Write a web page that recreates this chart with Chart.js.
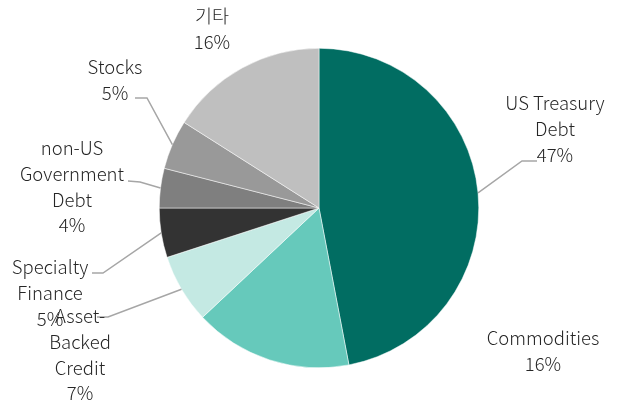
<!DOCTYPE html>
<html>
<head>
<meta charset="utf-8">
<script src="https://cdn.jsdelivr.net/npm/chart.js@4"></script>
<style>
  html, body { margin: 0; padding: 0; background: #fff; }
  #wrap { width: 622px; height: 408px; position: relative; }
</style>
</head>
<body>
<div id="wrap"><canvas id="myChart" width="622" height="408"></canvas></div>
<script>
// data
const categories = ["US Treasury Debt", "Commodities", "Asset-Backed Credit", "Specialty Finance", "non-US Government Debt", "Stocks", "기타"];
const shares = [47, 16, 7, 5, 4, 5, 16];
const sliceColors = ["#016d62", "#66c9bb", "#c4e9e3", "#333333", "#7f7f7f", "#999999", "#bfbfbf"];
// label text lines for each slice
const labelLines = [
  ["US Treasury", "Debt", "47%"],
  ["Commodities", "16%"],
  ["Asset-", "Backed", "Credit", "7%"],
  ["Specialty", "Finance", "5%"],
  ["non-US", "Government", "Debt", "4%"],
  ["Stocks", "5%"],
  ["기타", "16%"]
];

// where the label block sits (center x, first line y) and where the leader bends
const labelPlace = [
  { x: 555, y: 103, line: [[537, 161], [522, 161]] },
  { x: 543, y: 338, line: null },
  { x: 80, y: 316, line: [[97, 317], [108, 317]] },
  { x: 50, y: 267, line: [[92, 273], [103, 273]] },
  { x: 72, y: 148, line: [[128, 181], [140, 182]] },
  { x: 115, y: 67, line: [[135, 98], [147, 98]] },
  { x: 212, y: 16, line: null }
];

const FONT = "300 18.5px 'Noto Sans CJK KR', 'Noto Sans', sans-serif";

const outsideLabels = {
  id: "outsideLabels",
  afterDatasetsDraw(chart) {
    const ctx = chart.ctx;
    const arcs = chart.getDatasetMeta(0).data;
    ctx.save();
    // leader lines
    ctx.strokeStyle = "#a6a6a6";
    ctx.lineWidth = 1.5;
    arcs.forEach((arc, i) => {
      const p = labelPlace[i];
      if (!p.line) return;
      const mid = (arc.startAngle + arc.endAngle) / 2;
      const ex = arc.x + Math.cos(mid) * arc.outerRadius;
      const ey = arc.y + Math.sin(mid) * arc.outerRadius;
      ctx.beginPath();
      ctx.moveTo(p.line[0][0], p.line[0][1]);
      ctx.lineTo(p.line[1][0], p.line[1][1]);
      ctx.lineTo(ex, ey);
      ctx.stroke();
    });
    // text
    ctx.font = FONT;
    ctx.fillStyle = "#262626";
    ctx.textAlign = "center";
    ctx.textBaseline = "middle";
    labelLines.forEach((lines, i) => {
      const p = labelPlace[i];
      lines.forEach((t, j) => {
        ctx.fillText(t, p.x, p.y + j * 25.8);
      });
    });
    ctx.restore();
  }
};

const ctx = document.getElementById("myChart").getContext("2d");
const myChart = new Chart(ctx, {
  type: "pie",
  data: {
    labels: categories,
    datasets: [
      {
        data: shares,
        backgroundColor: sliceColors,
        borderColor: "#ffffff",
        borderWidth: 0.5,
      }
    ],
  },
  options: {
    responsive: false,
    animation: false,
    layout: { padding: { top: 48, bottom: 40, left: 16, right: 0 } },
    plugins: {
      legend: { display: false },
      tooltip: { enabled: false },
    },
  },
  plugins: [outsideLabels],
});
</script>
</body>
</html>
